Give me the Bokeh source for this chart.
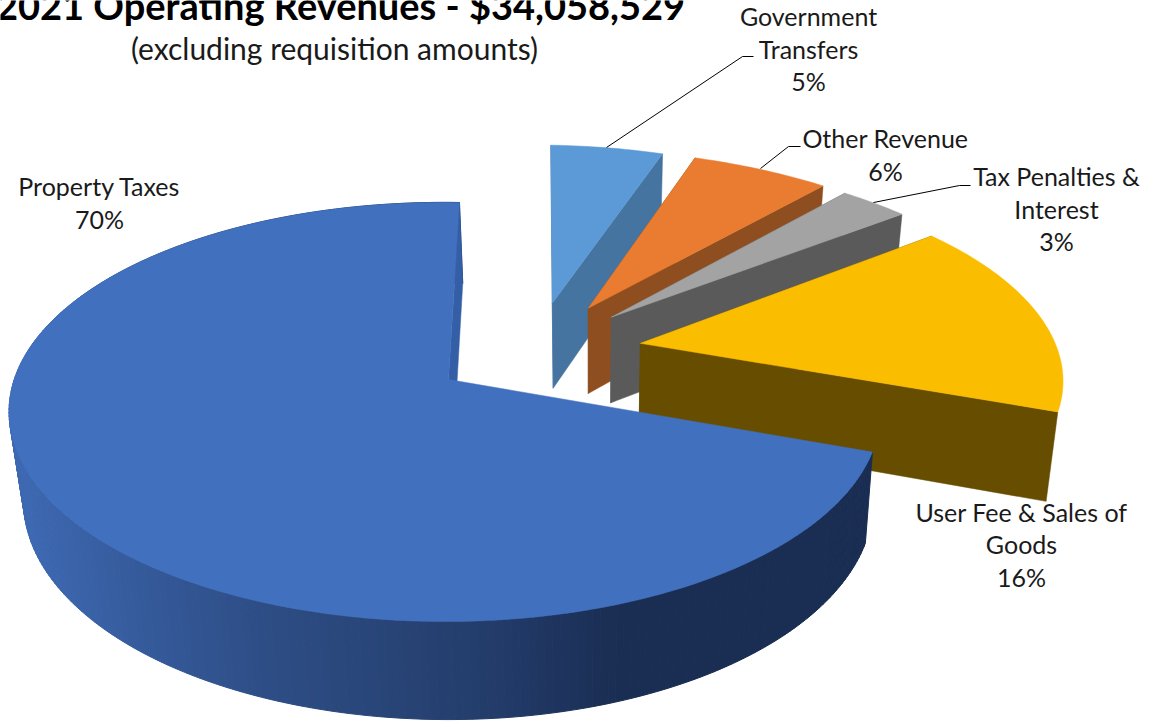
import numpy as np
from bokeh.core.properties import value
from bokeh.embed import file_html
from bokeh.models import Range1d
from bokeh.plotting import figure
from bokeh.resources import INLINE

# Revenue shares, clockwise from twelve o'clock
categories = ["Government Transfers", "Other Revenue", "Tax Penalties & Interest",
              "User Fee & Sales of Goods", "Property Taxes"]
shares = [5, 6, 3, 16, 70]
title = "2021 Operating Revenues - $34,058,529"
subtitle = "(excluding requisition amounts)"

top_colors = ["#5b9ad6", "#e97c30", "#a3a3a3", "#fbbd00", "#4170bf"]
wall_colors = ["#44749f", "#8f4e20", "#5a5a5a", "#664d00", "#345ea6"]

# Explosion of each wedge in the pie's plane, with horizontal stretch and shear on screen
explode_u = [0.2446, 0.3331, 0.3884, 0.4545, 0.0]
explode_v = [0.4047, 0.3798, 0.3329, 0.1970, 0.0]
stretch = [1.02, 1.04, 1.04, 1.008, 1.0]
shear = [-0.009, 0.0, 0.0, -0.065, 0.0]

# Perspective mapping from the unit-circle plane to the page
A, B, C = 432.0, 82.1, 448.0
D, E, F = 8.0, -145.7, 379.0
G, K = 0.004, 0.155


def project(u, v):
    w = 1 + G * u + K * v
    return (A * u + B * v + C) / w, (D * u + E * v + F) / w


def drop(x, y):
    """Where a point of the top face lands on the pie's underside."""
    return 590 + 0.975 * (x - 590), 1.041 * y + 72.6


def wedge(i, theta):
    u = explode_u[i] + np.sin(theta)
    v = explode_v[i] + np.cos(theta)
    x, y = project(u, v)
    x0, y0 = project(explode_u[i], explode_v[i])
    return x0 + stretch[i] * (x - x0) + shear[i] * (y - y0), y


def mix_gradient(x):
    stops_x = [20, 120, 250, 350, 500, 620, 900]
    stops_rgb = np.array([[0x3e, 0x69, 0xb2], [0x36, 0x5c, 0x9e], [0x2e, 0x4e, 0x87],
                          [0x2a, 0x47, 0x7b], [0x22, 0x3b, 0x69], [0x1a, 0x2d, 0x52],
                          [0x1a, 0x2d, 0x52]])
    rgb = [np.interp(x, stops_x, stops_rgb[:, c]) for c in range(3)]
    return "#%02x%02x%02x" % tuple(int(round(c)) for c in rgb)


p = figure(width=1150, height=721, output_backend="svg", toolbar_location=None,
           x_range=Range1d(0, 1150), y_range=Range1d(721, 0), min_border=0,
           outline_line_color=None, background_fill_color="white")
p.axis.visible = False
p.grid.visible = False

bounds = np.cumsum([0] + shares) / sum(shares) * 2 * np.pi

for i in range(len(shares)):
    t0, t1 = bounds[i], bounds[i + 1]
    thetas = np.linspace(t0, t1, max(int((t1 - t0) * 60), 12) + 1)
    rim_x, rim_y = wedge(i, thetas)
    ax, ay = project(explode_u[i], explode_v[i])
    low_x, low_y = drop(rim_x, rim_y)
    alx, aly = drop(ax, ay)

    # Side faces come first so the top face covers whatever lies behind it
    big = categories[i] == "Property Taxes"
    if big:
        for j in range(len(thetas) - 1):
            color = mix_gradient((rim_x[j] + rim_x[j + 1]) / 2)
            p.patch([rim_x[j], rim_x[j + 1], low_x[j + 1], low_x[j]],
                    [rim_y[j], rim_y[j + 1], low_y[j + 1], low_y[j]],
                    fill_color=color, line_color=color, line_width=1)
    for k in ((-1,) if big else (0, -1)):
        p.patch([ax, rim_x[k], low_x[k], alx], [ay, rim_y[k], low_y[k], aly],
                fill_color=wall_colors[i], line_color=wall_colors[i], line_width=0.5)

    p.patch(np.r_[ax, rim_x], np.r_[ay, rim_y], fill_color=top_colors[i],
            line_color=top_colors[i], line_width=0.5)

# Leader lines from the wedges to their labels
leader_xs = [[606, 742, 753], [760, 788, 800], [873, 959, 970]]
leader_ys = [[147, 56, 56], [168, 146, 146], [202, 185, 185]]
p.multi_line(leader_xs, leader_ys, line_color="black", line_width=1)

label_font = value("Lato")
label_lines = [
    ("Government", 808, 15), ("Transfers", 808, 48), ("5%", 808, 80),
    ("Other Revenue", 885, 137), ("6%", 885, 170),
    ("Tax Penalties &", 1056, 175), ("Interest", 1056, 208), ("3%", 1056, 240),
    ("User Fee & Sales of", 1021, 511), ("Goods", 1021, 543), ("16%", 1021, 576),
    ("Property Taxes", 99, 185), ("70%", 99, 218),
]
for text, x, y in label_lines:
    p.text([x], [y], text=[text], text_font=label_font, text_font_size="25px",
           text_color="#1a1a1a", text_align="center", text_baseline="middle")

p.text([340], [4.5], text=[title], text_font=label_font, text_font_style="bold",
       text_font_size="38px", text_color="black", text_align="center", text_baseline="middle")
p.text([334], [47], text=[subtitle], text_font=label_font, text_font_size="30px",
       text_color="#1a1a1a", text_align="center", text_baseline="middle")

open("out.html", "w").write(file_html(p, INLINE))
